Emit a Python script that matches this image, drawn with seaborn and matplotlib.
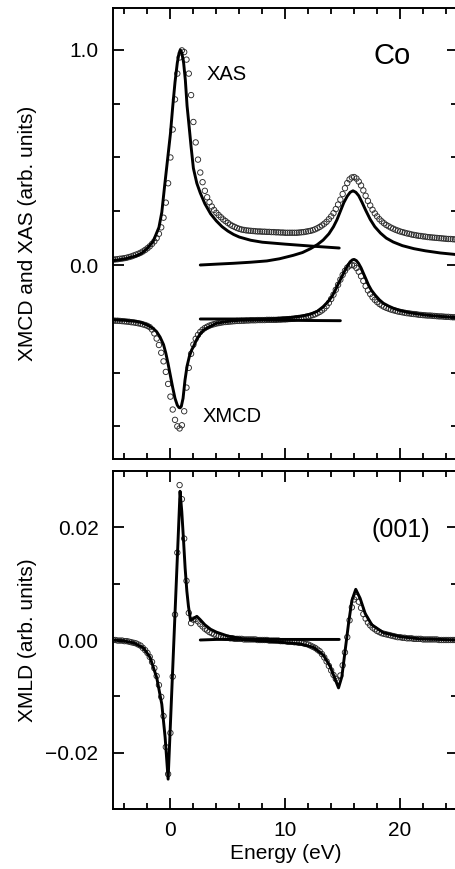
import numpy as np
import matplotlib
matplotlib.use("Agg")
import matplotlib.pyplot as plt
from matplotlib.ticker import MultipleLocator, FixedLocator, FuncFormatter
import seaborn as sns

# Measured spectra, sampled every 0.2 eV from -5 to 25 eV (relative to the L3 edge)
energy = np.round(np.arange(-5.0, 25.0001, 0.2), 1)

xas_data = [
    0.025, 0.026, 0.027, 0.029, 0.030, 0.032, 0.034, 0.037, 0.040, 0.044,
    0.048, 0.052, 0.057, 0.063, 0.070, 0.078, 0.087, 0.098, 0.110, 0.125,
    0.145, 0.175, 0.220, 0.290, 0.380, 0.500, 0.630, 0.770, 0.890, 0.965,
    0.998, 0.990, 0.955, 0.890, 0.790, 0.665, 0.570, 0.490, 0.430, 0.385,
    0.345, 0.315, 0.292, 0.272, 0.256, 0.243, 0.232, 0.222, 0.212, 0.204,
    0.196, 0.188, 0.182, 0.177, 0.172, 0.168, 0.165, 0.163, 0.161, 0.160,
    0.159, 0.158, 0.157, 0.156, 0.156, 0.155, 0.155, 0.154, 0.154, 0.153,
    0.153, 0.152, 0.152, 0.151, 0.151, 0.150, 0.150, 0.150, 0.150, 0.150,
    0.150, 0.151, 0.152, 0.153, 0.155, 0.157, 0.159, 0.162, 0.166, 0.171,
    0.177, 0.184, 0.192, 0.201, 0.213, 0.226, 0.241, 0.260, 0.281, 0.304,
    0.330, 0.357, 0.381, 0.398, 0.407, 0.409, 0.402, 0.388, 0.370, 0.347,
    0.322, 0.298, 0.277, 0.257, 0.240, 0.226, 0.213, 0.203, 0.194, 0.186,
    0.180, 0.174, 0.169, 0.164, 0.160, 0.156, 0.153, 0.150, 0.147, 0.145,
    0.142, 0.140, 0.138, 0.136, 0.135, 0.133, 0.132, 0.130, 0.129, 0.128,
    0.127, 0.126, 0.125, 0.124, 0.123, 0.122, 0.121, 0.121, 0.120, 0.119,
    0.119,
]

xmcd_data = [
    -0.258, -0.259, -0.259, -0.260, -0.261, -0.262, -0.263, -0.264, -0.266, -0.267,
    -0.269, -0.271, -0.273, -0.276, -0.279, -0.283, -0.289, -0.300, -0.318, -0.342,
    -0.372, -0.408, -0.448, -0.497, -0.553, -0.612, -0.672, -0.720, -0.750, -0.760,
    -0.745, -0.680, -0.570, -0.478, -0.413, -0.370, -0.343, -0.325, -0.311, -0.301,
    -0.293, -0.287, -0.282, -0.278, -0.275, -0.272, -0.270, -0.268, -0.266, -0.265,
    -0.264, -0.263, -0.262, -0.261, -0.260, -0.260, -0.259, -0.259, -0.258, -0.258,
    -0.257, -0.257, -0.257, -0.256, -0.256, -0.256, -0.256, -0.255, -0.255, -0.255,
    -0.255, -0.255, -0.254, -0.254, -0.253, -0.253, -0.252, -0.251, -0.250, -0.249,
    -0.247, -0.246, -0.245, -0.243, -0.241, -0.239, -0.236, -0.233, -0.229, -0.224,
    -0.218, -0.211, -0.202, -0.191, -0.176, -0.158, -0.138, -0.115, -0.092, -0.068,
    -0.046, -0.027, -0.012, -0.003, 0.000, -0.003, -0.014, -0.031, -0.052, -0.074,
    -0.098, -0.118, -0.135, -0.150, -0.162, -0.172, -0.181, -0.188, -0.194, -0.199,
    -0.203, -0.207, -0.210, -0.213, -0.216, -0.218, -0.220, -0.222, -0.224, -0.225,
    -0.227, -0.228, -0.229, -0.231, -0.232, -0.233, -0.234, -0.235, -0.235, -0.236,
    -0.237, -0.238, -0.239, -0.239, -0.240, -0.241, -0.241, -0.242, -0.243, -0.243,
    -0.244,
]

xmld_data = [
    0.0000, 0.0000, -0.0001, -0.0001, -0.0001, -0.0002, -0.0002, -0.0003, -0.0004, -0.0005,
    -0.0006, -0.0008, -0.0010, -0.0014, -0.0018, -0.0023, -0.0030, -0.0039, -0.0050, -0.0064,
    -0.0080, -0.0101, -0.0135, -0.0190, -0.0238, -0.0165, -0.0065, 0.0045, 0.0155, 0.0275,
    0.0250, 0.0180, 0.0105, 0.0048, 0.0030, 0.0036, 0.0037, 0.0033, 0.0028, 0.0024,
    0.0020, 0.0017, 0.0014, 0.0012, 0.0010, 0.0008, 0.0007, 0.0006, 0.0005, 0.0004,
    0.0004, 0.0003, 0.0003, 0.0002, 0.0002, 0.0002, 0.0002, 0.0001, 0.0001, 0.0001,
    0.0001, 0.0001, 0.0001, 0.0000, 0.0000, 0.0000, 0.0000, 0.0000, -0.0001, -0.0001,
    -0.0001, -0.0001, -0.0001, -0.0002, -0.0002, -0.0002, -0.0003, -0.0003, -0.0003, -0.0004,
    -0.0004, -0.0005, -0.0005, -0.0006, -0.0007, -0.0008, -0.0010, -0.0012, -0.0014, -0.0017,
    -0.0020, -0.0025, -0.0031, -0.0038, -0.0046, -0.0054, -0.0062, -0.0069, -0.0072, -0.0063,
    -0.0045, -0.0022, 0.0005, 0.0035, 0.0058, 0.0072, 0.0076, 0.0068, 0.0057, 0.0046,
    0.0038, 0.0031, 0.0026, 0.0022, 0.0019, 0.0016, 0.0014, 0.0012, 0.0011, 0.0010,
    0.0009, 0.0008, 0.0007, 0.0006, 0.0005, 0.0005, 0.0004, 0.0004, 0.0003, 0.0003,
    0.0003, 0.0002, 0.0002, 0.0002, 0.0002, 0.0001, 0.0001, 0.0001, 0.0001, 0.0001,
    0.0001, 0.0001, 0.0000, 0.0000, 0.0000, 0.0000, 0.0000, 0.0000, 0.0000, 0.0000,
    0.0000,
]

# Calculated L3 and L2 contributions (solid curves)
xas_l3_e = [-5, -4, -3, -2.5, -2, -1.5, -1.0, -0.75, -0.5, -0.25, 0.0, 0.2, 0.4, 0.6,
            0.75, 0.87, 1.0, 1.15, 1.3, 1.45, 1.6, 1.8, 2.0, 2.3, 2.6, 3.0, 3.5, 4.0,
            4.5, 5.0, 5.5, 6.0, 7.0, 8.0, 10.0, 12.0, 14.7]
xas_l3 = [0.020, 0.028, 0.042, 0.055, 0.078, 0.110, 0.175, 0.245, 0.370, 0.490, 0.610,
          0.736, 0.850, 0.940, 0.985, 1.000, 0.985, 0.940, 0.860, 0.740, 0.660, 0.550,
          0.450, 0.380, 0.335, 0.285, 0.238, 0.205, 0.178, 0.158, 0.142, 0.130, 0.115,
          0.106, 0.097, 0.089, 0.079]

xas_l2_e = [2.6, 4, 5.5, 7, 8.4, 9.5, 10.7, 11.5, 12.2, 12.8, 13.3, 13.8, 14.2, 14.5,
            14.8, 15.1, 15.4, 15.65, 15.9, 16.15, 16.4, 16.7, 17.0, 17.4, 17.8, 18.3,
            18.8, 19.4, 20.2, 21.2, 22.2, 23.5, 25]
xas_l2 = [0.000, 0.004, 0.008, 0.013, 0.019, 0.029, 0.045, 0.058, 0.076, 0.095, 0.116,
          0.145, 0.178, 0.210, 0.250, 0.290, 0.320, 0.338, 0.345, 0.338, 0.322, 0.290,
          0.255, 0.212, 0.178, 0.148, 0.125, 0.107, 0.090, 0.076, 0.066, 0.056, 0.048]

xmcd_l3_e = [-5, -4, -3, -2.5, -2, -1.5, -1.2, -0.9, -0.6, -0.4, -0.2, 0.0, 0.2, 0.4,
             0.6, 0.75, 0.85, 0.95, 1.1, 1.27, 1.45, 1.65, 1.85, 2.0, 2.3, 2.6, 2.9,
             3.3, 4.0, 5.0, 6.0, 8.0, 10.0, 12.0, 14.8]
xmcd_l3 = [-0.255, -0.257, -0.262, -0.268, -0.279, -0.295, -0.310, -0.335, -0.370,
           -0.410, -0.460, -0.515, -0.570, -0.620, -0.652, -0.663, -0.664, -0.657,
           -0.620, -0.535, -0.470, -0.425, -0.395, -0.380, -0.345, -0.320, -0.302,
           -0.290, -0.271, -0.262, -0.257, -0.256, -0.257, -0.258, -0.259]

xmcd_l2_e = [2.6, 4, 6, 7.8, 9.5, 10.7, 11.5, 12.2, 12.8, 13.3, 13.7, 14.06, 14.35,
             14.64, 14.95, 15.22, 15.45, 15.65, 15.85, 16.0, 16.2, 16.38, 16.6, 16.81,
             17.05, 17.25, 17.5, 17.83, 18.2, 18.55, 19.0, 19.42, 20.1, 20.87, 22.3,
             23.5, 25]
xmcd_l2 = [-0.251, -0.251, -0.251, -0.252, -0.248, -0.243, -0.237, -0.228, -0.215,
           -0.194, -0.172, -0.147, -0.118, -0.085, -0.052, -0.023, -0.002, 0.015,
           0.024, 0.026, 0.020, 0.008, -0.013, -0.039, -0.068, -0.093, -0.117, -0.140,
           -0.162, -0.178, -0.191, -0.201, -0.213, -0.222, -0.233, -0.239, -0.244]

xmld_l3_e = [-5, -4, -3.2, -2.35, -1.77, -1.19, -0.75, -0.46, -0.2, 0.0, 0.2, 0.41,
             0.61, 0.84, 0.99, 1.13, 1.28, 1.43, 1.57, 1.75, 2.0, 2.3, 2.6, 3.0, 3.5,
             4.0, 5.0, 6.3, 8.0, 10.0, 12.0, 14.7]
xmld_l3 = [0.0000, -0.0002, -0.0005, -0.0014, -0.0031, -0.0067, -0.0114, -0.0173,
           -0.0247, -0.0149, -0.0051, 0.0052, 0.0150, 0.0264, 0.0228, 0.0181, 0.0128,
           0.0087, 0.0060, 0.0035, 0.0038, 0.0042, 0.0036, 0.0027, 0.0019, 0.0014,
           0.0007, 0.0002, 0.0001, 0.0001, 0.0001, 0.0001]

xmld_l2_e = [2.6, 4, 6.1, 9.0, 11.3, 12.46, 13.33, 13.91, 14.35, 14.64, 14.93, 15.22,
             15.51, 15.8, 16.14, 16.52, 16.96, 17.54, 18.55, 20.0, 21.74, 25]
xmld_l2 = [0.0000, 0.0001, 0.0001, -0.0003, -0.0007, -0.0013, -0.0027, -0.0047,
           -0.0070, -0.0085, -0.0065, -0.0018, 0.0029, 0.0070, 0.0090, 0.0074, 0.0047,
           0.0027, 0.0013, 0.0006, 0.0002, 0.0000]

sns.set_theme(style="ticks")
plt.rcParams["font.family"] = ["Liberation Sans", "DejaVu Sans"]
plt.rcParams["axes.unicode_minus"] = True
for key in ("text.color", "axes.labelcolor", "xtick.color", "ytick.color",
            "axes.edgecolor"):
    plt.rcParams[key] = "black"

W, H = 455, 869
fig = plt.figure(figsize=(W / 100, H / 100), dpi=100)
fig.patch.set_facecolor("white")
ax_top = fig.add_axes([113 / W, 1 - 459 / H, 344.5 / W, 451 / H])
ax_bot = fig.add_axes([113 / W, 1 - 809 / H, 344.5 / W, 338 / H])

LINE_W = 2.1
MARK_S = 15


def draw_points(ax, y):
    sns.scatterplot(x=energy, y=y, ax=ax, s=MARK_S, color="#2a2a2a",
                    linewidth=0.65, legend=False, zorder=2)
    pts = ax.collections[-1]
    pts.set_facecolor("none")
    pts.set_edgecolor("#2a2a2a")


def draw_curve(ax, x, y):
    sns.lineplot(x=x, y=y, ax=ax, color="black", linewidth=LINE_W,
                 estimator=None, sort=False, legend=False, zorder=3)


# Top: XAS and XMCD
draw_points(ax_top, xas_data)
draw_points(ax_top, xmcd_data)
draw_curve(ax_top, xas_l3_e, xas_l3)
draw_curve(ax_top, xas_l2_e, xas_l2)
draw_curve(ax_top, xmcd_l3_e, xmcd_l3)
draw_curve(ax_top, xmcd_l2_e, xmcd_l2)

# Bottom: XMLD
draw_points(ax_bot, xmld_data)
draw_curve(ax_bot, xmld_l3_e, xmld_l3)
draw_curve(ax_bot, xmld_l2_e, xmld_l2)

FS = 15
for ax in (ax_top, ax_bot):
    ax.set_xlim(-5, 25)
    ax.xaxis.set_major_locator(MultipleLocator(10))
    ax.xaxis.set_minor_locator(MultipleLocator(2))
    ax.tick_params(which="both", direction="in", top=True, right=True,
                   width=1.3, color="black", labelcolor="black", labelsize=FS)
    ax.tick_params(which="major", length=8)
    ax.tick_params(axis="x", which="minor", length=4)
    ax.tick_params(axis="y", which="minor", length=5)
    ax.tick_params(axis="x", pad=9)
    ax.tick_params(axis="y", pad=10.5)
    for sp in ax.spines.values():
        sp.set_linewidth(1.4)
        sp.set_color("black")
    ax.set_facecolor("white")

ax_top.set_ylim(-0.902, 1.195)
ax_top.yaxis.set_major_locator(FixedLocator([0.0, 1.0]))
ax_top.yaxis.set_minor_locator(MultipleLocator(0.25))
ax_top.yaxis.set_major_formatter(FuncFormatter(lambda v, p: f"{v:.1f}"))
ax_top.tick_params(axis="x", labelbottom=False)
ax_top.set_xlabel("")
ax_top.set_ylabel("XMCD and XAS (arb. units)", fontsize=FS, color="black")
ax_top.yaxis.set_label_coords(-0.2195, 0.5)

ax_bot.set_ylim(-0.03, 0.03)
ax_bot.yaxis.set_major_locator(MultipleLocator(0.02))
ax_bot.yaxis.set_minor_locator(MultipleLocator(0.01))


def fmt_xmld(v, p):
    if abs(v) < 1e-9:
        return "0.00"
    return f"{v:.2f}".replace("-", "\u2212")


ax_bot.yaxis.set_major_formatter(FuncFormatter(fmt_xmld))
ax_bot.set_xlabel("Energy (eV)", fontsize=FS, color="black")
ax_bot.xaxis.set_label_coords(0.5, -0.103)
ax_bot.set_ylabel("XMLD (arb. units)", fontsize=FS, color="black")
ax_bot.yaxis.set_label_coords(-0.2195, 0.5)

# Annotations
ax_top.text(19.3, 0.935, "Co", fontsize=21, ha="center", va="baseline", color="black")
ax_top.text(4.91, 0.862, "XAS", fontsize=14.5, ha="center", va="baseline", color="black")
ax_top.text(5.37, -0.729, "XMCD", fontsize=14.5, ha="center", va="baseline", color="black")
ax_bot.text(20.1, 0.0182, "(001)", fontsize=18, ha="center", va="baseline", color="black")

fig.savefig("out.png", dpi=100, facecolor="white")
